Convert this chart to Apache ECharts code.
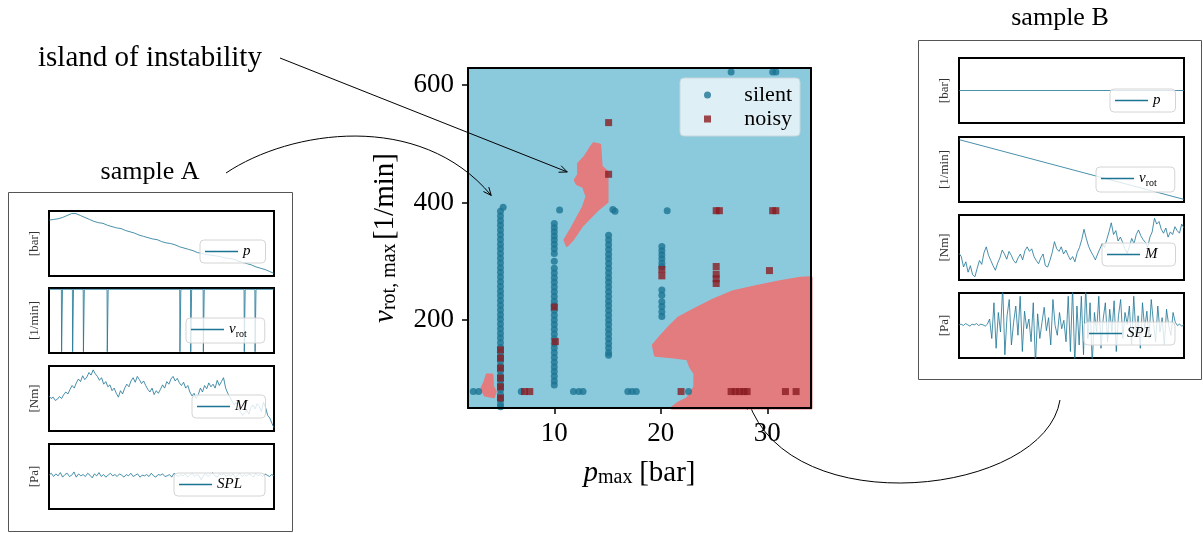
<!DOCTYPE html>
<html>
<head>
<meta charset="utf-8">
<script src="https://cdn.jsdelivr.net/npm/echarts@6/dist/echarts.min.js"></script>
<style>
  html, body { margin: 0; padding: 0; background: #fff; }
  #chart { width: 1203px; height: 533px; }
</style>
</head>
<body>
<div id="chart"></div>
<script>
// ---- main map: p_max [bar] vs v_rot,max [1/min] ----
const X_MIN = 1.9, X_MAX = 34.1;
const Y_MIN = 50, Y_MAX = 629;
const xTicks = [10, 20, 30];
const yTicks = [200, 400, 600];

// silent runs, one column per pressure setting (y = v_rot,max)
const silentCol5 = [385, 377, 369, 361, 353, 345, 337, 329, 321, 313, 305, 297, 289, 281, 273, 265, 257, 249, 241, 233, 225, 217, 209, 201, 193, 185, 177, 169, 161, 153, 145, 137, 129, 121, 113, 105, 97, 89, 81, 73, 65, 57, 52];
const silentCol10 = [364, 357, 350, 343, 336, 329, 321, 313, 300, 288, 280, 272, 264, 256, 248, 240, 232, 224, 216, 208, 200, 192, 184, 176, 168, 160, 152, 144, 136, 128, 120, 112, 104, 96, 89];
const silentCol15 = [344, 336, 328, 320, 312, 304, 296, 288, 280, 272, 264, 256, 248, 240, 232, 224, 216, 208, 200, 192, 184, 176, 168, 160, 152, 144, 140];
const silentCol20 = [325, 318, 311, 304, 297, 291, 251, 242, 231, 223, 214, 206];
const silentOther = [[5.2, 392], [10.5, 387], [15.5, 388], [15.7, 385], [20.6, 386], [26.6, 622], [30.5, 622], [30.8, 622],
  [2.4, 78], [2.9, 78], [6.9, 78], [11.8, 78], [12.3, 78], [12.7, 78], [16.9, 78], [17.3, 78], [17.7, 78], [22.6, 78]];

const noisyPts = [[15.1, 536], [15.1, 448], [25.2, 386], [25.5, 386], [30.5, 386], [30.8, 386],
  [25.2, 291], [25.2, 278], [25.2, 270], [25.2, 262], [30.2, 284], [20.1, 286], [20.1, 275],
  [10.0, 222], [10.1, 163],
  [4.95, 149], [4.95, 135], [4.95, 118], [4.95, 101], [4.95, 86], [4.95, 67],
  [7.2, 78], [7.7, 78], [21.9, 78], [26.6, 78], [27.0, 78], [27.4, 78], [27.8, 78], [28.1, 78], [31.7, 78], [32.7, 78]];

// predicted noisy regions (outlines)
const islandPoly = [[13.7, 500], [14.26, 498], [14.4, 461], [14.95, 452], [14.95, 401], [14.0, 387], [12.6, 361], [11.66, 336],
  [11.2, 327], [11.0, 336], [11.66, 356], [12.75, 393], [13.07, 410], [12.75, 427], [12.13, 432], [11.97, 438],
  [12.28, 447], [12.28, 466], [12.9, 478], [13.38, 492]];
const smallPoly = [[3.68, 106], [4.15, 106], [4.2, 86], [4.46, 78], [4.3, 69], [3.5, 72], [3.2, 83], [3.5, 95]];
const bigPoly = [[21.05, Y_MIN], [21.6, 58], [22.5, 66], [23.2, 86], [23.2, 109], [22.8, 120], [22.5, 134], [21.2, 137],
  [19.5, 140], [19.3, 157], [19.95, 171], [20.7, 186], [21.66, 203], [23.1, 217], [24.95, 234], [26.8, 248],
  [29.0, 257], [31.2, 265], [33.1, 271], [X_MAX, 272], [X_MAX, Y_MIN]];

// ---- sample A time series (normalised) ----
const aPressure = [.86, .87, .88, .90, .93, .96, .96, .93, .90, .87, .84, .82, .81, .78, .76, .74, .73, .70, .68, .66, .63, .61, .59, .57, .56, .53, .51, .50, .48, .45, .43, .41, .39, .36, .35, .33, .32, .31, .30, .28, .27, .26, .23, .21, .19, .17, .14, .12, .10, .07, .04];
const aSpeed = [[0, .98], [.055, .98], [.056, .02], [.059, .02], [.060, .98], [.104, .98], [.105, .02], [.108, .02], [.109, .98],
  [.152, .98], [.153, .02], [.156, .02], [.157, .98], [.258, .98], [.259, .02], [.262, .02], [.263, .98],
  [.581, .98], [.582, .02], [.585, .02], [.586, .98], [.629, .98], [.630, .02], [.633, .02], [.634, .98],
  [.685, .98], [.686, .02], [.689, .02], [.690, .98], [.867, .98], [.868, .02], [.871, .02], [.872, .98],
  [.915, .98], [.916, .02], [.919, .02], [.920, .98], [1, .98]];
const aTorque = [.54, .50, .52, .47, .49, .53, .50, .56, .60, .57, .64, .70, .66, .74, .80, .76, .85, .79, .83, .90, .86, .94, .88, .84, .78, .82, .72, .76, .68, .71, .62, .66, .58, .52, .62, .57, .66, .72, .68, .77, .82, .75, .84, .79, .73, .77, .70, .64, .60, .66, .56, .62, .58, .64, .71, .66, .76, .72, .80, .84, .77, .81, .74, .70, .75, .66, .70, .60, .54, .58, .50, .56, .66, .60, .70, .65, .74, .68, .72, .66, .78, .70, .76, .82, .66, .58, .52, .46, .40, .44, .34, .30, .24, .28, .32, .26, .36, .40, .34, .42, .38, .30, .44, .36, .24, .20, .12, .05];
const aSpl = [.52, .55, .50, .54, .51, .56, .49, .53, .55, .50, .52, .57, .49, .54, .51, .53, .50, .55, .52, .48, .54, .51, .56, .50, .53, .49, .52, .55, .51, .53, .50, .54, .52, .49, .53, .51, .55, .50, .52, .54, .49, .52, .51, .53, .50, .55, .51, .49, .53, .52, .54, .50, .51, .53, .49, .55, .52, .50, .53, .51, .54, .49, .52, .55, .50, .53, .51, .45, .52, .54, .50, .53, .56, .51, .49, .54, .52, .55, .50, .53, .51, .54, .49, .52, .55, .50, .53, .51, .54, .52, .49, .55, .51, .53, .50, .54, .52, .50, .53, .51];

// ---- sample B time series (normalised) ----
const bPressure = [.5, .5];
const bSpeed = [.96, .04];
const bTorque = [.41, .36, .20, .28, .12, .22, .08, .05, .18, .30, .24, .42, .51, .38, .30, .22, .15, .26, .34, .46, .40, .32, .44, .38, .30, .26, .34, .40, .31, .45, .51, .44, .48, .36, .30, .25, .34, .40, .22, .20, .30, .42, .59, .48, .44, .51, .40, .46, .38, .31, .36, .28, .42, .50, .62, .78, .64, .52, .44, .38, .31, .40, .48, .56, .50, .62, .74, .88, .70, .76, .60, .66, .58, .48, .41, .52, .64, .56, .70, .77, .68, .62, .58, .50, .66, .74, .95, .86, .90, .78, .72, .80, .66, .74, .70, .82, .76, .72, .86, .80];
const bSpl = [.51, .52, .50, .53, .51, .49, .52, .51, .53, .50, .52, .51, .49, .52,
  .60, .30, .85, .15, .70, .40, 1.1, .05, .65, .90, .20, .55, .80, .35, .95, .10, .72, .45, .60, .25, .85, -.1, .68, .30, .55, .78, .42, .62, .20, .90, .50, .35, .70, .45, .58,
  .25, .95, .10, 1.1, -.1, .80, .20, .95, .05, 1.1, .30, .85, -.1, .70, .40, .95, .15, .60, .85, .25, .75, .40, .88, .10, .65, .90, .30, .70, .52, .80, .20, .95, .35, .65, .15, .85, .45, .72, .30, .90, .55, .25, .80, .40, .62, .20, .75, .50, .35, .70, .55,
  .50, .52, .49, .51];

const SERIF = '"Liberation Serif", "DejaVu Serif", serif';
const BLUE = '#1b7494';
const RED = '#8b1c22';
const REGION = '#e27c7f';
const BG = '#8bcadd';

const chart = echarts.init(document.getElementById('chart'));

function evenly(arr) {
  // samples are equally spaced in time
  return arr.map((v, i) => [i / (arr.length - 1), v]);
}

function polySeries(poly) {
  return {
    type: 'custom', xAxisIndex: 0, yAxisIndex: 0, z: 1, silent: true,
    data: [[X_MIN, Y_MIN]],
    renderItem: function (params, api) {
      return {
        type: 'polygon',
        shape: { points: poly.map(p => api.coord(p)) },
        style: { fill: REGION, stroke: REGION, lineWidth: 3, lineJoin: 'round' }
      };
    }
  };
}

// small panels: grid position, unit label, series name, data, legend box [left, top, right padding]
const panels = [
  { left: 49, top: 211, unit: '[bar]', name: 'pA', data: evenly(aPressure), lg: [200, 240, 15] },
  { left: 49, top: 288, unit: '[1/min]', name: 'vA', data: aSpeed, lg: [186, 318, 18] },
  { left: 49, top: 366, unit: '[Nm]', name: 'MA', data: evenly(aTorque), lg: [192, 395, 18] },
  { left: 49, top: 444, unit: '[Pa]', name: 'SA', data: evenly(aSpl), lg: [174, 473, 23] },
  { left: 959, top: 58, unit: '[bar]', name: 'pB', data: evenly(bPressure), lg: [1110, 89, 15] },
  { left: 959, top: 137, unit: '[1/min]', name: 'vB', data: evenly(bSpeed), lg: [1096, 167, 18] },
  { left: 959, top: 215, unit: '[Nm]', name: 'MB', data: evenly(bTorque), lg: [1102, 243, 18] },
  { left: 959, top: 293, unit: '[Pa]', name: 'SB', data: evenly(bSpl), lg: [1084, 322, 23] }
];
const legendText = { p: '{i|p}', v: '{i|v}{s|rot}', M: '{i|M}', S: '{i|SPL}' };

const grids = [{ left: 468, top: 68, width: 343, height: 340, show: true, backgroundColor: BG, borderWidth: 0 }];
const axisName = {
  i: { fontFamily: SERIF, fontStyle: 'italic', fontSize: 29, color: '#000', lineHeight: 30 },
  s: { fontFamily: SERIF, fontSize: 20, color: '#000', lineHeight: 16, verticalAlign: 'bottom' },
  n: { fontFamily: SERIF, fontSize: 29, color: '#000', lineHeight: 30 }
};
const xAxes = [
  {
    gridIndex: 0, type: 'value', min: X_MIN, max: X_MAX, z: 5,
    axisLine: { show: true, onZero: false, lineStyle: { color: '#000', width: 2 } },
    axisTick: { show: true, customValues: xTicks, length: 6, lineStyle: { color: '#000', width: 1.5 } },
    axisLabel: { customValues: xTicks, color: '#000', fontFamily: SERIF, fontSize: 27, margin: 12 },
    splitLine: { show: false },
    name: '{i|p}{s|max}  {n|[bar]}', nameLocation: 'middle', nameGap: 50,
    nameTextStyle: { rich: axisName }
  },
  {
    gridIndex: 0, type: 'value', position: 'top', min: X_MIN, max: X_MAX, z: 5,
    axisLine: { show: true, onZero: false, lineStyle: { color: '#000', width: 2 } },
    axisTick: { show: false }, axisLabel: { show: false }, splitLine: { show: false }
  }
];
const yAxes = [
  {
    gridIndex: 0, type: 'value', min: Y_MIN, max: Y_MAX, z: 5,
    axisLine: { show: true, onZero: false, lineStyle: { color: '#000', width: 2 } },
    axisTick: { show: true, customValues: yTicks, length: 6, lineStyle: { color: '#000', width: 1.5 } },
    axisLabel: { customValues: yTicks, color: '#000', fontFamily: SERIF, fontSize: 27, margin: 14 },
    splitLine: { show: false },
    name: '{i|v}{s|rot, max} {n|[1/min]}', nameLocation: 'middle', nameRotate: 90, nameGap: 68,
    nameTextStyle: { rich: axisName }
  },
  {
    gridIndex: 0, type: 'value', position: 'right', min: Y_MIN, max: Y_MAX, z: 5,
    axisLine: { show: true, onZero: false, lineStyle: { color: '#000', width: 2 } },
    axisTick: { show: false }, axisLabel: { show: false }, splitLine: { show: false }
  }
];

const series = [
  polySeries(bigPoly), polySeries(islandPoly), polySeries(smallPoly),
  {
    name: 'silent', type: 'scatter', xAxisIndex: 0, yAxisIndex: 0, z: 3,
    symbol: 'circle', symbolSize: 7, itemStyle: { color: BLUE },
    data: [].concat(
      silentCol5.map(y => [4.95, y]), silentCol10.map(y => [10.0, y]),
      silentCol15.map(y => [15.1, y]), silentCol20.map(y => [20.1, y]), silentOther)
  },
  {
    name: 'noisy', type: 'scatter', xAxisIndex: 0, yAxisIndex: 0, z: 4,
    symbol: 'rect', symbolSize: 7, itemStyle: { color: RED }, data: noisyPts
  }
];

const legends = [{
  data: [{ name: 'silent', icon: 'circle' }, { name: 'noisy', icon: 'rect' }],
  orient: 'vertical', left: 680, top: 78,
  padding: [6, 8, 6, 24], itemGap: 2, itemWidth: 7, itemHeight: 7,
  backgroundColor: 'rgba(236,246,250,0.85)', borderColor: '#c9d6dc', borderWidth: 1, borderRadius: 4,
  formatter: '{a|{name}}',
  textStyle: { rich: { a: { width: 76, align: 'right', fontFamily: SERIF, fontSize: 22, color: '#000', lineHeight: 30 } } }
}];

panels.forEach((p, k) => {
  const gi = k + 1;      // grid index (grid 0 is the main map)
  const ai = k + 2;      // axis index (main map uses two x and two y axes)
  grids.push({ left: p.left, top: p.top, width: 225, height: 65, show: true, borderColor: '#000', borderWidth: 2 });
  xAxes.push({ gridIndex: gi, type: 'value', min: 0, max: 1, show: false });
  yAxes.push({
    gridIndex: gi, type: 'value', min: 0, max: 1,
    axisLine: { show: false }, axisTick: { show: false }, axisLabel: { show: false }, splitLine: { show: false },
    name: p.unit, nameLocation: 'middle', nameRotate: 90, nameGap: 8,
    nameTextStyle: { fontFamily: SERIF, fontSize: 13, color: '#333' }
  });
  series.push({
    name: p.name, type: 'line', xAxisIndex: ai, yAxisIndex: ai, data: p.data,
    symbol: 'none', lineStyle: { color: BLUE, width: 0.8 }, itemStyle: { color: BLUE }
  });
  legends.push({
    data: [{ name: p.name, icon: 'rect' }], left: p.lg[0], top: p.lg[1],
    padding: [4, p.lg[2], 4, 5], itemWidth: 33, itemHeight: 1.3,
    backgroundColor: 'rgba(255,255,255,0.8)', borderColor: '#d4d4d4', borderWidth: 1, borderRadius: 4,
    formatter: legendText[p.name[0]],
    textStyle: {
      rich: {
        i: { fontFamily: SERIF, fontStyle: 'italic', fontSize: 15, color: '#000', lineHeight: 19 },
        s: { fontFamily: SERIF, fontSize: 10, color: '#000', lineHeight: 10, verticalAlign: 'bottom' }
      }
    }
  });
});

chart.setOption({
  animation: false,
  grid: grids, xAxis: xAxes, yAxis: yAxes, legend: legends, series: series
});

// ---- annotations: labels, boxes and arrows ----
const toPx = v => chart.convertToPixel({ gridIndex: 0 }, v);
const islandTip = toPx([11.22, 452]);
const sampleATip = toPx([4.08, 412]);
const sampleBTip = toPx([28.2, 62]);

function head(tip, from) {
  const dx = tip[0] - from[0], dy = tip[1] - from[1];
  const len = Math.sqrt(dx * dx + dy * dy);
  const ux = dx / len, uy = dy / len, L = 8, W = 3.5;
  return {
    type: 'polyline', silent: true,
    shape: { points: [[tip[0] - L * ux + W * uy, tip[1] - L * uy - W * ux], tip, [tip[0] - L * ux - W * uy, tip[1] - L * uy + W * ux]] },
    style: { stroke: '#000', lineWidth: 1, fill: null }
  };
}
const lineStyle = { stroke: '#000', lineWidth: 1, fill: null };
const txt = (text, x, y, size, align) => ({
  type: 'text', silent: true,
  style: { text: text, x: x, y: y, fontFamily: SERIF, fontSize: size, fill: '#000', align: align, verticalAlign: 'middle' }
});

const aStart = [226, 173], aCp1 = [290, 130], aCp2 = [420, 110];
const bStart = [1060, 400], bCp1 = [1045, 495], bCp2 = [790, 525];
const islandStart = [280, 58];

chart.setOption({
  graphic: [
    { type: 'rect', silent: true, shape: { x: 8.5, y: 192.5, width: 284, height: 339 }, style: { stroke: '#555', lineWidth: 1, fill: null } },
    { type: 'rect', silent: true, shape: { x: 918.5, y: 40.5, width: 283, height: 339 }, style: { stroke: '#555', lineWidth: 1, fill: null } },
    txt('island of instability', 38, 58, 29, 'left'),
    txt('sample A', 150, 172, 26, 'center'),
    txt('sample B', 1060, 18, 26, 'center'),
    { type: 'line', silent: true, shape: { x1: islandStart[0], y1: islandStart[1], x2: islandTip[0], y2: islandTip[1] }, style: lineStyle },
    head(islandTip, islandStart),
    {
      type: 'bezierCurve', silent: true,
      shape: { x1: aStart[0], y1: aStart[1], cpx1: aCp1[0], cpy1: aCp1[1], cpx2: aCp2[0], cpy2: aCp2[1], x2: sampleATip[0], y2: sampleATip[1] },
      style: lineStyle
    },
    head(sampleATip, aCp2),
    {
      type: 'bezierCurve', silent: true,
      shape: { x1: bStart[0], y1: bStart[1], cpx1: bCp1[0], cpy1: bCp1[1], cpx2: bCp2[0], cpy2: bCp2[1], x2: sampleBTip[0], y2: sampleBTip[1] },
      style: lineStyle
    },
    head(sampleBTip, bCp2)
  ]
});
</script>
</body>
</html>
